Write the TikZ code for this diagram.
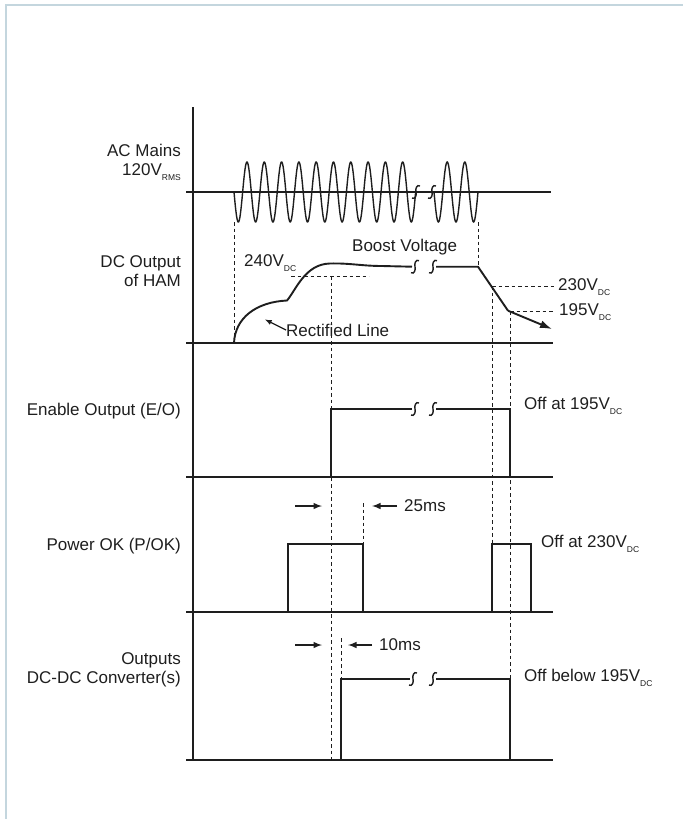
\documentclass[tikz,border=0pt]{standalone}
\usepackage{fontspec}
\setmainfont{Liberation Sans}
\usetikzlibrary{arrows,arrows.meta}
\definecolor{framegray}{RGB}{196,214,222}
\definecolor{inkgray}{RGB}{30,30,30}
\tikzset{
	trace/.style={line width=1.9pt, inkgray},
	axisline/.style={line width=2.2pt, inkgray},
	guide/.style={line width=1pt, inkgray, dash pattern=on 3.5pt off 3pt},
	lbl/.style={font=\fontsize{17}{19}\selectfont, inner sep=0pt, text=inkgray},
	brk/.style={line width=1.4pt, inkgray}
}
% subscript as in the data sheet
\newcommand{\subtxt}[1]{\raisebox{-0.5ex}{\fontsize{8.5}{8.5}\selectfont #1}}
% break mark on a trace
\newcommand{\brkmark}[2]{\draw[brk] (#1+4,#2-6) .. controls (#1+1,#2-8) and (#1-1,#2-3) .. (#1,#2) .. controls (#1+1,#2+3) and (#1-1,#2+8) .. (#1-4,#2+6);}

\begin{document}
\begin{tikzpicture}[x=1pt,y=-1pt]
		\useasboundingbox (0,0) rectangle (683,819);
		% frame
		\draw[framegray, line width=1.2pt] (6,819) -- (6,5) -- (683,5);

		% axis and baselines
		\draw[axisline] (193,107) -- (193,760);
		\draw[axisline] (186,192) -- (551,192);
		\draw[axisline] (186,343) -- (553,343);
		\draw[axisline] (186,477) -- (553,477);
		\draw[axisline] (186,612) -- (553,612);
		\draw[axisline] (186,760) -- (553,760);

		% -----------------------------------------------------
		% AC mains
		\draw[trace, line width=1.4pt] plot[domain=0:10.5, samples=400] ({234+\x*17.3}, {192+30*sin(\x*360)});
		\draw[trace, line width=1.4pt] plot[domain=0:2.5, samples=120] ({434+\x*17.6}, {192+30*sin(\x*360)});
		\brkmark{416}{192}
		\brkmark{432}{192}

		% DC output of HAM
		\draw[trace] (234,343) .. controls (235,318) and (256,302) .. (287,300.5)
			.. controls (296,290) and (305,264) .. (330,263.5)
			.. controls (350,263) and (362,266) .. (382,266) -- (412,266.7);
		\draw[trace] (436,266.7) -- (478,266.7) -- (508,310.7);
		\draw[trace, -{Latex[length=12pt,width=8pt]}] (508,310.7) -- (552,329);
		\brkmark{415}{266.7}
		\brkmark{433}{266.7}

		\draw[guide] (234,222) -- (234,343);
		\draw[guide] (478,222) -- (478,266.7);
		\draw[guide] (291,276) -- (369,276);
		\draw[guide] (331,276) -- (331,760);
		\draw[guide] (492,286) -- (555,286);
		\draw[guide] (492,286) -- (492,544);
		\draw[guide] (510,311) -- (555,311);
		\draw[guide] (510,311) -- (510,679);

		% Enable output
		\draw[trace] (331,477) -- (331,409) -- (412,409);
		\draw[trace] (436,409) -- (510,409) -- (510,477);
		\brkmark{415}{409}
		\brkmark{433}{409}

		% Power OK
		\draw[trace] (288,612) -- (288,544) -- (363,544) -- (363,612);
		\draw[trace] (492,612) -- (492,544) -- (531,544) -- (531,612);
		\draw[guide] (363,503) -- (363,544);
		\draw[trace, -latex] (295,506) -- (322,506);
		\draw[trace, -latex] (397,506) -- (372,506);

		% Outputs DC-DC
		\draw[trace] (341,760) -- (341,679) -- (410,679);
		\draw[trace] (436,679) -- (510,679) -- (510,760);
		\brkmark{413}{679}
		\brkmark{433}{679}
		\draw[guide] (341,638) -- (341,679);
		\draw[trace, -latex] (295,645) -- (322,645);
		\draw[trace, -latex] (372,645) -- (348,645);

		% -----------------------------------------------------
		% labels
		\node[lbl, anchor=east, align=right] (acmains) at (181,162.5) {AC Mains\\120V\subtxt{RMS}};
		\node[lbl, anchor=east, align=right] (dcout) at (181,271.5) {DC Output\\of HAM};
		\node[lbl, anchor=east] (enable) at (181,411) {Enable Output (E/O)};
		\node[lbl, anchor=east] (powerok) at (181,546) {Power OK (P/OK)};
		\node[lbl, anchor=east, align=right] (outputs) at (181,670) {Outputs\\DC-DC Converter(s)};

		\node[lbl, anchor=west] (boost) at (352,246.7) {Boost Voltage};
		\node[lbl, anchor=west] (v240) at (244,263) {240V\subtxt{DC}};
		\node[lbl, anchor=west] (v230) at (558,287) {230V\subtxt{DC}};
		\node[lbl, anchor=west] (v195) at (559,312) {195V\subtxt{DC}};
		\node[lbl, anchor=west] (rectline) at (286,330) {Rectified Line};
		\draw[trace, line width=1.3pt, -latex] (rectline.west) -- (265,319.5);

		\node[lbl, anchor=west] (offenable) at (524,406) {Off at 195V\subtxt{DC}};
		\node[lbl, anchor=west] (offpok) at (541,544) {Off at 230V\subtxt{DC}};
		\node[lbl, anchor=west] (offout) at (524,678) {Off below 195V\subtxt{DC}};
		\node[lbl, anchor=west] (t25) at (404,506) {25ms};
		\node[lbl, anchor=west] (t10) at (379,645) {10ms};

\end{tikzpicture}
\end{document}
